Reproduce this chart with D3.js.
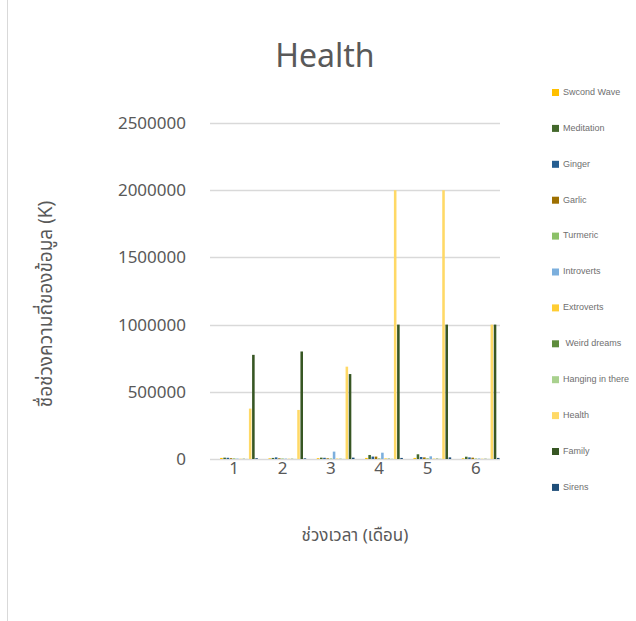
<!DOCTYPE html>
<html>
<head>
<meta charset="utf-8">
<script src="https://cdn.jsdelivr.net/npm/d3@7"></script>
<style>
  body { margin: 0; background: #fff; }
  text { font-family: "Leelawadee UI", "Noto Sans Thai", "Noto Sans", "DejaVu Sans", sans-serif; fill: #595959; }
  .legend text { font-family: "Liberation Sans", Arial, sans-serif; fill: #6f6f6f; }
</style>
</head>
<body>
<div id="chart"></div>
<script>
const months = ['1', '2', '3', '4', '5', '6'];
const seriesNames = ['Swcond Wave', 'Meditation', 'Ginger', 'Garlic', 'Turmeric', 'Introverts',
    'Extroverts', ' Weird dreams', 'Hanging in there', 'Health', 'Family', 'Sirens'];
const seriesColors = ['#ffc000', '#43682b', '#255e91', '#9e7000', '#8cc168', '#7cafdd',
    '#ffcd33', '#5e8c3c', '#a9d18e', '#ffd966', '#375623', '#1f4e79'];

// one row per series, one value per month
const swcondWave = [8000, 5000, 6000, 8000, 8000, 5000];
const meditation = [10000, 8000, 10000, 30000, 35000, 17000];
const ginger = [9000, 12000, 9000, 18000, 15000, 12000];
const garlic = [6000, 5000, 5000, 18000, 12000, 10000];
const turmeric = [5000, 4000, 4000, 5000, 6000, 4000];
const introverts = [3000, 3000, 55000, 47000, 20000, 4000];
const extroverts = [2000, 2000, 3000, 5000, 3000, 2000];
const weirdDreams = [2000, 2000, 2000, 3000, 3000, 2000];
const hanging = [1000, 1000, 1000, 2000, 2000, 1000];
const health = [375000, 365000, 687000, 2000000, 2000000, 1000000];
const family = [775000, 800000, 632000, 1000000, 1000000, 1000000];
const sirens = [6000, 5000, 10000, 8000, 12000, 8000];

const yTicks = [0, 500000, 1000000, 1500000, 2000000, 2500000];

const allSeries = [swcondWave, meditation, ginger, garlic, turmeric, introverts,
    extroverts, weirdDreams, hanging, health, family, sirens];

const width = 636, height = 621;
const margin = { top: 123, right: 136, bottom: 162, left: 210 };

const svg = d3.select('#chart').append('svg')
    .attr('width', width)
    .attr('height', height);

// chart frame (only the left edge shows inside the window)
svg.append('rect')
    .attr('x', 7.5).attr('y', -1)
    .attr('width', width).attr('height', height + 10)
    .attr('fill', 'none')
    .attr('stroke', '#d9d9d9');

const x0 = d3.scaleBand()
    .domain(months)
    .range([margin.left, width - margin.right]);

const x1 = d3.scaleBand()
    .domain(seriesNames)
    .range([x0.bandwidth() * 0.21, x0.bandwidth() * 0.99])
    .paddingInner(0.2);

const y = d3.scaleLinear()
    .domain([0, 2500000])
    .range([height - margin.bottom, margin.top]);

// gridlines
svg.append('g')
    .selectAll('line')
    .data(yTicks)
    .enter().append('line')
    .attr('x1', margin.left)
    .attr('x2', width - margin.right)
    .attr('y1', d => Math.round(y(d)) + 0.5)
    .attr('y2', d => Math.round(y(d)) + 0.5)
    .attr('stroke', '#d9d9d9')
    .attr('stroke-width', 1.3);

// bars
const groups = svg.append('g')
    .selectAll('g')
    .data(months)
    .enter().append('g')
    .attr('transform', d => 'translate(' + x0(d) + ',0)');

groups.selectAll('rect')
    .data((m, mi) => seriesNames.map((s, si) => ({ s: s, si: si, v: allSeries[si][mi] })))
    .enter().append('rect')
    .attr('x', d => x1(d.s))
    .attr('width', x1.bandwidth())
    .attr('y', d => y(d.v))
    .attr('height', d => y(0) - y(d.v))
    .attr('fill', d => seriesColors[d.si]);

// y tick labels
svg.append('g')
    .selectAll('text')
    .data(yTicks)
    .enter().append('text')
    .attr('x', 186)
    .attr('y', d => y(d))
    .attr('dy', '0.35em')
    .attr('text-anchor', 'end')
    .style('font-size', '17px')
    .text(d => d);

// x tick labels
svg.append('g')
    .selectAll('text')
    .data(months)
    .enter().append('text')
    .attr('x', d => x0(d) + x0.bandwidth() / 2)
    .attr('y', 474)
    .attr('text-anchor', 'middle')
    .style('font-size', '17px')
    .text(d => d);

// title
svg.append('text')
    .attr('x', 325)
    .attr('y', 67)
    .attr('text-anchor', 'middle')
    .style('font-size', '32px')
    .text('Health');

// axis titles
svg.append('text')
    .attr('x', (margin.left + width - margin.right) / 2)
    .attr('y', 541)
    .attr('text-anchor', 'middle')
    .style('font-size', '17px')
    .text('ช่วงเวลา (เดือน)');

svg.append('text')
    .attr('transform', 'translate(52,304) rotate(-90)')
    .attr('text-anchor', 'middle')
    .style('font-size', '19px')
    .text('ชื่อช่วงความถี่ของข้อมูล (K)');

// legend
const legend = svg.append('g')
    .attr('class', 'legend')
    .selectAll('g')
    .data(seriesNames)
    .enter().append('g')
    .attr('transform', (d, i) => 'translate(552,' + (92 + i * 35.9) + ')');

legend.append('rect')
    .attr('x', 0).attr('y', -3)
    .attr('width', 7).attr('height', 7)
    .attr('fill', (d, i) => seriesColors[i]);

legend.append('text')
    .attr('x', 11)
    .attr('y', 0)
    .attr('dy', '0.32em')
    .style('font-size', '9px')
    .style('white-space', 'pre')
    .text(d => d);
</script>
</body>
</html>
